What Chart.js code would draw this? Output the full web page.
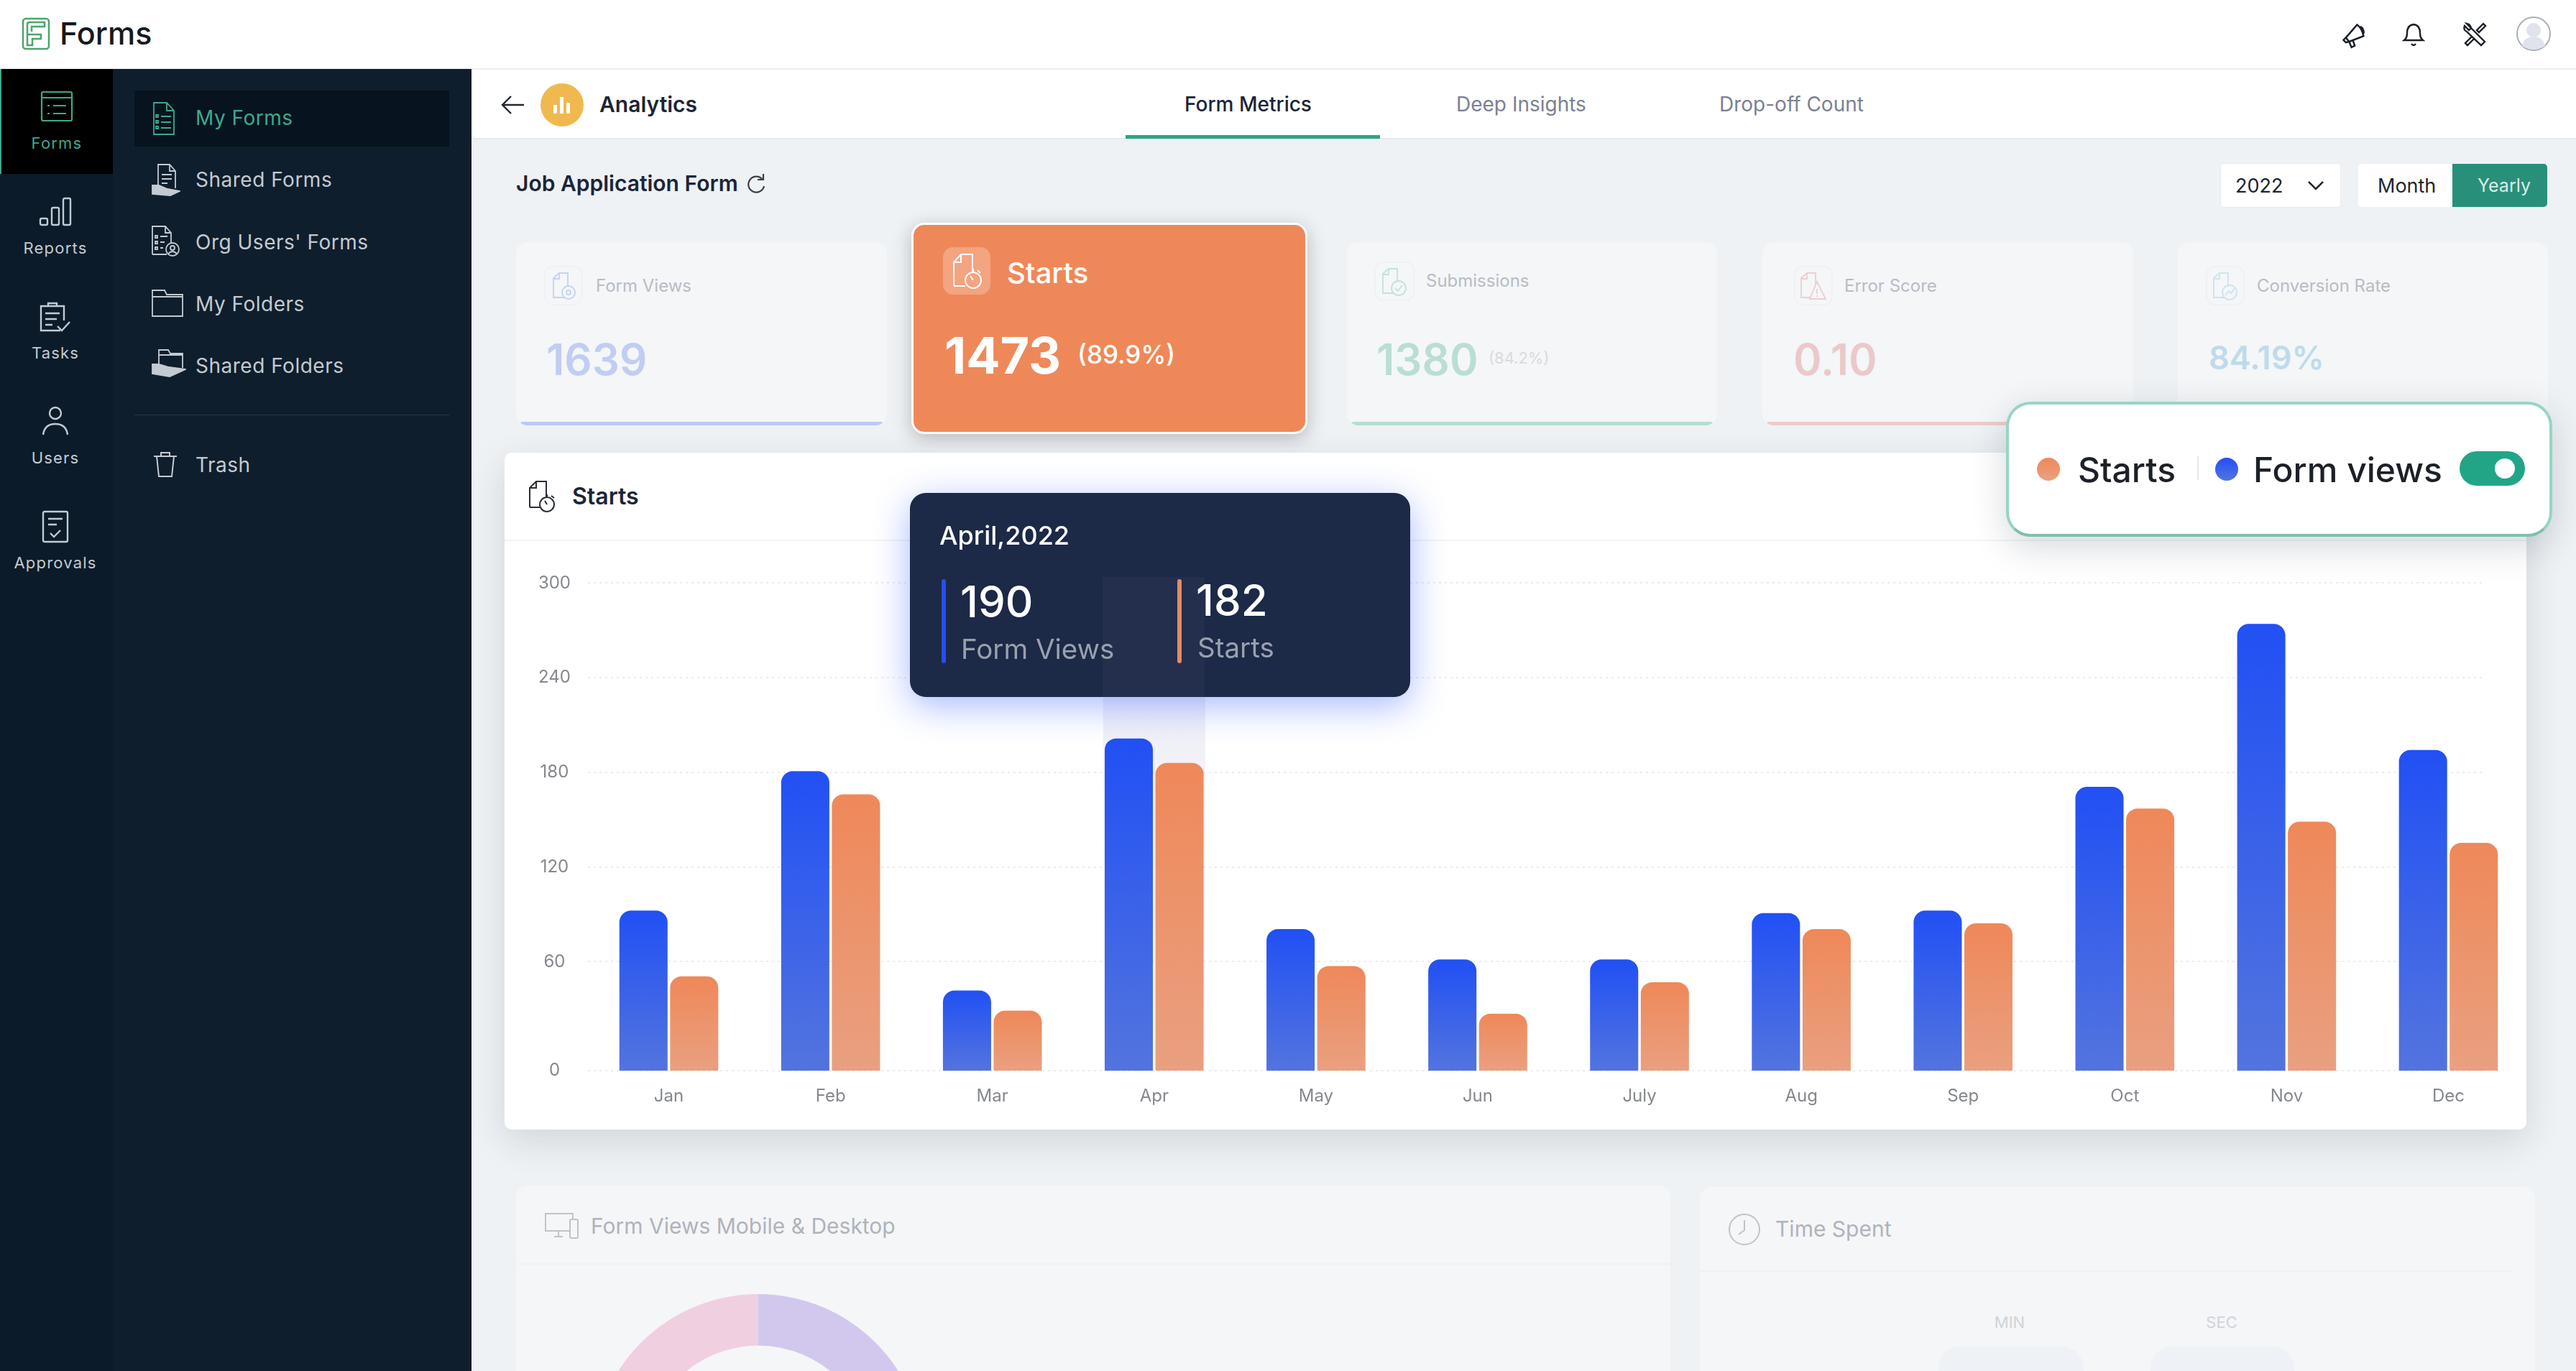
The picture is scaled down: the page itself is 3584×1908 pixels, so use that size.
<!DOCTYPE html>
<html>
<head>
<meta charset="utf-8">
<title>Forms - Analytics</title>
<script src="https://cdn.jsdelivr.net/npm/chart.js@4/dist/chart.umd.js"></script>
<style>
  * { box-sizing: border-box; }
  html, body { margin: 0; width: 3584px; height: 1908px; overflow: hidden; background: #eef2f5; font-family: Inter, sans-serif; }
  .box { position: absolute; }
  .t { position: absolute; transform: translateY(-50%); white-space: nowrap; line-height: 1.2; }
  .tc { position: absolute; transform: translate(-50%, -50%); white-space: nowrap; line-height: 1.2; }
  svg { position: absolute; fill: none; }
  .rail { color: #c3cad2; font-size: 22px; letter-spacing: 1.2px; }
  .nav { color: #c3cad2; font-size: 28px; letter-spacing: .5px; }
  .kpi { position: absolute; background: #f4f6f8; border-radius: 16px; top: 337px; height: 255px; overflow: hidden; }
  .kpi i { position: absolute; left: 6px; right: 6px; bottom: 0; height: 5px; border-radius: 3px; }
  .ib { position: absolute; border: 2px solid #eff1f4; border-radius: 12px; }
  .lbl { font-size: 24px; color: #b8bcc4; }
  .val { font-size: 60px; font-weight: 600; }
</style>
</head>
<body>

<!-- top bar -->
<div class="box" style="left:0;top:0;width:3584px;height:97px;background:#fff;border-bottom:2px solid #eceef0"></div>
<svg style="left:30px;top:24px" width="40" height="46" viewBox="0 0 40 46" stroke="#4aa56c" stroke-width="2.5">
  <rect x="2" y="2" width="36" height="42" rx="4"/><path d="M8 20V10q0-3 3-3h21v6H14v7m-6 0v19h7V30h12v-6H8"/>
</svg>
<div class="t" style="left:83px;top:47px;font-size:43px;font-weight:500;color:#151a20">Forms</div>
<svg style="left:3257px;top:30px" width="36" height="38" viewBox="0 0 32 34" stroke="#1b1f28" stroke-width="2.2">
  <path d="M6 20 20 4q6 4 8 14L10 25zM6 20l-3 3 3 3 4-1M10 25l3 7 4-2-2-6M24 6q5 3 4 9"/>
</svg>
<svg style="left:3342px;top:30px" width="32" height="36" viewBox="0 0 32 36" stroke="#1b1f28" stroke-width="2.4">
  <path d="M3 26q4-3 4-10 0-11 9-12 9 1 9 12 0 7 4 10zM13 31q3 4 6 0"/>
</svg>
<svg style="left:3425px;top:30px" width="36" height="36" viewBox="0 0 36 36" stroke="#1b1f28" stroke-width="2.4">
  <path d="M7 3l6 6-3 3-6-6q-2 6 3 8l20 19 5-5L13 9q-1-5-6-6zM30 3l-9 9 3 3 9-9-3-3zM14 21l-9 9 3 3 9-9"/>
</svg>
<svg style="left:3501px;top:23px" width="48" height="48" viewBox="0 0 48 48" stroke="#aab0ba" stroke-width="2">
  <circle cx="24" cy="24" r="23" fill="#fff"/><circle cx="24" cy="19" r="10" fill="#e0e3ee" stroke="none"/><path d="M8 41q3-13 16-13t16 13q-16 10-32 0" fill="#e0e3ee" stroke="none"/>
</svg>

<!-- left rail + nav panel -->
<div class="box" style="left:0;top:96px;width:157px;height:1812px;background:#0b1b29"></div>
<div class="box" style="left:157px;top:96px;width:499px;height:1812px;background:#0f1e2c"></div>
<div class="box" style="left:0;top:96px;width:157px;height:146px;background:#000;border-left:2px solid #3fa88d"></div>
<svg style="left:56px;top:125px" width="46" height="46" viewBox="0 0 46 46" stroke="#3fa88d" stroke-width="2.2">
  <rect x="2" y="3" width="42" height="40" rx="2"/><path d="M2 11h42M10 22h3M18 22h18M10 33h3M18 33h18"/>
</svg>
<div class="tc rail" style="left:79px;top:199px;color:#3fa88d">Forms</div>
<svg style="left:54px;top:274px" width="46" height="42" viewBox="0 0 46 42" stroke="#c3cad2" stroke-width="2.4">
  <rect x="2" y="30" width="10" height="9" rx="2"/><rect x="18" y="15" width="10" height="24" rx="2"/><rect x="34" y="2" width="10" height="37" rx="2"/>
</svg>
<div class="tc rail" style="left:77px;top:345px">Reports</div>
<svg style="left:54px;top:419px" width="46" height="46" viewBox="0 0 46 46" stroke="#c3cad2" stroke-width="2.4">
  <path d="M30 41H3V7h32v20M13 7V3h12v4M9 17h20M9 25h16M9 33h10M26 35l6 6 11-12"/>
</svg>
<div class="tc rail" style="left:77px;top:491px">Tasks</div>
<svg style="left:58px;top:565px" width="38" height="42" viewBox="0 0 38 42" stroke="#c3cad2" stroke-width="2.4">
  <circle cx="19" cy="10" r="8"/><path d="M2 40q2-15 17-15t17 15"/>
</svg>
<div class="tc rail" style="left:77px;top:637px">Users</div>
<svg style="left:58px;top:710px" width="38" height="46" viewBox="0 0 38 46" stroke="#c3cad2" stroke-width="2.4">
  <rect x="2" y="2" width="34" height="42" rx="2"/><path d="M9 12h20M9 20h12M12 32l5 5 9-9"/>
</svg>
<div class="tc rail" style="left:77px;top:783px">Approvals</div>

<div class="box" style="left:187px;top:126px;width:438px;height:78px;background:#07141f"></div>
<svg style="left:211px;top:142px" width="32" height="46" viewBox="0 0 32 46" stroke="#3fa88d" stroke-width="1.8">
  <path d="M3 1h18l10 11v33H3zM21 1v11h10M6 18h3v3H6zM6 26h3v3H6zM6 34h3v3H6zM13 20h14M13 28h14M13 36h14"/>
</svg>
<svg style="left:211px;top:228px" width="40" height="46" viewBox="0 0 40 46" stroke="#c3cad2" stroke-width="1.8">
  <path d="M9 30V1h16l8 9v24M25 1v9h8M14 15h14M14 21h14M14 27h8"/><path d="M1 30h9l12 5 17 3-13 6-25-2z" fill="#c3cad2"/>
</svg>
<svg style="left:211px;top:314px" width="40" height="44" viewBox="0 0 40 44" stroke="#c3cad2" stroke-width="1.8">
  <path d="M1 40V1h18l8 9v14M19 1v9h8M5 14h3v3H5zM5 22h3v3H5zM5 30h3v3H5zM12 15h10M12 23h6M12 31h4M1 40h20"/><circle cx="29" cy="33" r="9"/><circle cx="29" cy="31" r="3"/><path d="M23 39q6-6 12 0"/>
</svg>
<svg style="left:211px;top:403px" width="44" height="38" viewBox="0 0 44 38" stroke="#c3cad2" stroke-width="1.8">
  <path d="M1 1h17l3 6h22v30H1zM1 10h42"/>
</svg>
<svg style="left:211px;top:486px" width="48" height="40" viewBox="0 0 48 40" stroke="#c3cad2" stroke-width="1.8">
  <path d="M10 24V1h13l3 5h17v20M10 8h33"/><path d="M1 21h9l14 4 23 3-22 10-24-4z" fill="#c3cad2"/>
</svg>
<svg style="left:213px;top:627px" width="34" height="38" viewBox="0 0 34 38" stroke="#c3cad2" stroke-width="2">
  <path d="M1 8h32M5 8l3 28h18l3-28M11 8V3h12v5"/>
</svg>
<div class="t nav" style="left:272px;top:165px;color:#3fa88d">My Forms</div>
<div class="t nav" style="left:272px;top:251px">Shared Forms</div>
<div class="t nav" style="left:272px;top:338px">Org Users' Forms</div>
<div class="t nav" style="left:272px;top:424px">My Folders</div>
<div class="t nav" style="left:272px;top:510px">Shared Folders</div>
<div class="box" style="left:187px;top:577px;width:438px;height:1px;background:#2a3846"></div>
<div class="t nav" style="left:272px;top:648px">Trash</div>

<!-- sub header -->
<div class="box" style="left:656px;top:97px;width:2928px;height:97px;background:#fff;border-bottom:2px solid #e8ebee"></div>
<svg style="left:697px;top:132px" width="32" height="28" viewBox="0 0 32 28" stroke="#22262e" stroke-width="2.4"><path d="M14 2 2 14l12 12M2 14h30"/></svg>
<div class="box" style="left:752px;top:116px;width:60px;height:60px;border-radius:50%;background:#f0b94f"></div>
<svg style="left:768px;top:132px" width="28" height="28" viewBox="0 0 28 28" fill="#fff"><rect x="2" y="14" width="5" height="12" fill="#fff"/><rect x="11" y="3" width="5" height="23" fill="#fff"/><rect x="20" y="11" width="5" height="15" fill="#fff"/></svg>
<div class="t" style="left:834px;top:145px;font-size:30px;font-weight:600;color:#1c2537">Analytics</div>
<div class="t" style="left:1648px;top:146px;font-size:28px;font-weight:500;color:#1c2537">Form Metrics</div>
<div class="box" style="left:1566px;top:188px;width:354px;height:5px;background:#2ba587"></div>
<div class="t" style="left:2026px;top:146px;font-size:28px;color:#7b8094">Deep Insights</div>
<div class="t" style="left:2392px;top:146px;font-size:28px;color:#7b8094">Drop-off Count</div>

<div class="t" style="left:718px;top:255px;font-size:30px;font-weight:600;color:#1c2537">Job Application Form</div>
<svg style="left:1037px;top:240px" width="28" height="30" viewBox="0 0 28 30" stroke="#3a4048" stroke-width="2.2"><path d="M24 10a11 11 0 1 0 2 9M25 2v8h-8"/></svg>

<div class="box" style="left:3089px;top:227px;width:168px;height:62px;background:#fff;border-radius:5px;border:1px solid #e8ebee"></div>
<div class="t" style="left:3110px;top:259px;font-size:27px;color:#1f2530">2022</div>
<svg style="left:3210px;top:250px" width="24" height="16" viewBox="0 0 24 16" stroke="#1f2530" stroke-width="2.6"><path d="M2 3l10 10L22 3"/></svg>
<div class="box" style="left:3281px;top:228px;width:263px;height:60px;background:#fff;border-radius:5px;overflow:hidden">
  <div class="box" style="left:131px;top:0;width:132px;height:60px;background:#28907a"></div>
</div>
<div class="t" style="left:3308px;top:259px;font-size:27px;color:#1f2530">Month</div>
<div class="t" style="left:3447px;top:258px;font-size:25px;color:#dbeee9">Yearly</div>

<!-- KPI cards -->
<div class="kpi" style="left:718px;width:516px"><i style="background:#bcc9f2"></i></div>
<div class="ib" style="left:757px;top:370px;width:54px;height:55px"></div>
<svg style="left:768px;top:378px" width="34" height="40" viewBox="0 0 34 40" stroke="#c5d2f2" stroke-width="1.8"><path d="M2 36V9l8-7h12v34zM10 2v8H2"/><circle cx="23" cy="29" r="9" fill="#f4f6f8"/><circle cx="23" cy="29" r="3"/></svg>
<div class="t lbl" style="left:829px;top:398px">Form Views</div>
<div class="t val" style="left:760px;top:500px;color:#c2cdf2">1639</div>

<div class="box" style="left:1268px;top:310px;width:551px;height:294px;background:#ef8859;border:3px solid #fff;border-radius:18px;box-shadow:0 6px 26px rgba(40,40,40,.28)"></div>
<div class="box" style="left:1312px;top:344px;width:66px;height:66px;border-radius:14px;background:rgba(255,255,255,.24)"></div>
<svg style="left:1324px;top:352px" width="46" height="52" viewBox="0 0 46 52" stroke="#fff" stroke-width="2"><path d="M3 46V13L13 2h16v26M13 2v11H3M3 46h16"/><circle cx="30" cy="38" r="11"/><path d="M30 38l-4-6M30 22v5M36 24l4 4"/></svg>
<div class="t" style="left:1401px;top:380px;font-size:40px;font-weight:500;color:#fff">Starts</div>
<div class="t" style="left:1314px;top:495px;font-size:70px;font-weight:700;color:#fff">1473</div>
<div class="t" style="left:1499px;top:493px;font-size:35px;font-weight:500;color:#fff">(89.9%)</div>

<div class="kpi" style="left:1874px;width:515px"><i style="background:#b5ddd2"></i></div>
<div class="ib" style="left:1912px;top:364px;width:56px;height:55px"></div>
<svg style="left:1922px;top:372px" width="36" height="40" viewBox="0 0 36 40" stroke="#c2e2da" stroke-width="1.8"><path d="M2 36V9l8-7h12v34zM10 2v8H2"/><circle cx="24" cy="29" r="10" fill="#f4f6f8"/><path d="M19 29l4 4 6-8"/></svg>
<div class="t lbl" style="left:1984px;top:391px">Submissions</div>
<div class="t val" style="left:1915px;top:500px;color:#b9ded5">1380</div>
<div class="t" style="left:2071px;top:498px;font-size:22px;color:#d8dbdf">(84.2%)</div>

<div class="kpi" style="left:2452px;width:516px"><i style="background:#eccccc"></i></div>
<div class="ib" style="left:2496px;top:370px;width:54px;height:55px"></div>
<svg style="left:2504px;top:378px" width="38" height="40" viewBox="0 0 38 40" stroke="#efcdcd" stroke-width="1.8"><path d="M2 36V9l8-7h12v34zM10 2v8H2"/><path d="M24 14l12 24H14zM24 24v7M24 33v2" fill="#f4f6f8"/></svg>
<div class="t lbl" style="left:2566px;top:398px">Error Score</div>
<div class="t val" style="left:2495px;top:500px;color:#ebc9ca">0.10</div>

<div class="kpi" style="left:3030px;width:515px"></div>
<div class="ib" style="left:3069px;top:370px;width:54px;height:55px"></div>
<svg style="left:3078px;top:378px" width="36" height="40" viewBox="0 0 36 40" stroke="#cfe3ee" stroke-width="1.8"><path d="M2 36V9l8-7h12v34zM10 2v8H2"/><circle cx="24" cy="29" r="10" fill="#f4f6f8"/><path d="M18 33l5-6 3 3 5-7"/></svg>
<div class="t lbl" style="left:3140px;top:398px">Conversion Rate</div>
<div class="t" style="left:3073px;top:498px;font-size:45px;font-weight:600;color:#bfdbea">84.19%</div>

<!-- chart card -->
<div class="box" style="left:702px;top:630px;width:2813px;height:942px;background:#fff;border-radius:10px;box-shadow:0 16px 50px rgba(30,40,60,.14)"></div>
<div class="box" style="left:702px;top:751px;width:2813px;height:2px;background:#f1f3f5"></div>
<svg style="left:735px;top:668px" width="48" height="46" viewBox="0 0 48 46" stroke="#2a2e36" stroke-width="2"><path d="M2 38V11L11 2h14v24M11 2v9H2M2 38h14"/><circle cx="26" cy="34" r="10" fill="#fff"/><path d="M26 34l-3-5M26 20v4M32 22l4 3"/></svg>
<div class="t" style="left:796px;top:691px;font-size:32px;font-weight:600;color:#1c2537">Starts</div>

<canvas id="barChart" class="box" style="left:702px;top:773px" width="2817" height="787"></canvas>

<!-- hover tooltip -->
<div class="box" style="left:1266px;top:686px;width:696px;height:284px;background:#1c2947;border-radius:22px;box-shadow:0 12px 50px rgba(60,100,255,.45);overflow:hidden">
  <div class="box" style="left:268px;top:117px;width:142px;height:167px;background:rgba(255,255,255,.03)"></div>
</div>
<div class="t" style="left:1307px;top:746px;font-size:36px;font-weight:500;color:#fff" id="tipTitle"></div>
<div class="box" style="left:1310px;top:806px;width:6px;height:117px;border-radius:3px;background:#2350ee"></div>
<div class="box" style="left:1638px;top:806px;width:6px;height:117px;border-radius:3px;background:#e58b63"></div>
<div class="t" style="left:1336px;top:837px;font-size:60px;font-weight:500;color:#fff" id="tipViews"></div>
<div class="t" style="left:1337px;top:903px;font-size:38.5px;color:#9aa0ae" id="tipViewsName"></div>
<div class="t" style="left:1664px;top:835px;font-size:60px;font-weight:500;color:#fff" id="tipStarts"></div>
<div class="t" style="left:1666px;top:901px;font-size:38.5px;color:#9aa0ae" id="tipStartsName"></div>

<!-- legend popup -->
<div class="box" style="left:2791px;top:559px;width:760px;height:188px;background:#fff;border:4px solid #96d5c4;border-bottom-color:#80bfae;border-radius:34px;box-shadow:0 14px 50px rgba(30,40,60,.18)"></div>
<div class="box" style="left:2834px;top:637px;width:32px;height:32px;border-radius:50%;background:linear-gradient(#ef8859,#e9a080)"></div>
<div class="t" style="left:2891px;top:654px;font-size:48px;font-weight:500;color:#1c2028" id="legStarts"></div>
<div class="box" style="left:3057px;top:635px;width:2px;height:33px;background:#e6e8eb"></div>
<div class="box" style="left:3082px;top:637px;width:32px;height:32px;border-radius:50%;background:linear-gradient(#2150f4,#5374de)"></div>
<div class="t" style="left:3135px;top:654px;font-size:48px;font-weight:500;color:#1c2028" id="legViews"></div>
<div class="box" style="left:3422px;top:628px;width:91px;height:48px;border-radius:24px;background:#22a586"></div>
<div class="box" style="left:3471px;top:638px;width:28px;height:28px;border-radius:50%;background:#fff"></div>

<!-- faded cards below -->
<div class="box" style="left:718px;top:1650px;width:1606px;height:300px;background:#f4f6f8;border-radius:16px 16px 0 0"></div>
<div class="box" style="left:718px;top:1758px;width:1606px;height:2px;background:#eff1f4"></div>
<svg style="left:757px;top:1687px" width="48" height="38" viewBox="0 0 48 38" stroke="#c0c3c9" stroke-width="2"><path d="M36 26H2V2h38v8M14 34h12M20 26v8"/><rect x="36" y="10" width="11" height="26" rx="2" fill="#f4f6f8"/></svg>
<div class="t" style="left:822px;top:1706px;font-size:30px;color:#b0b3ba">Form Views Mobile &amp; Desktop</div>
<canvas id="donutChart" class="box" style="left:805px;top:1782px" width="500" height="500"></canvas>

<div class="box" style="left:2365px;top:1652px;width:1162px;height:300px;background:#f4f6f8;border-radius:16px 16px 0 0"></div>
<div class="box" style="left:2365px;top:1768px;width:1130px;height:2px;background:#eff1f4"></div>
<svg style="left:2403px;top:1688px" width="48" height="46" viewBox="0 0 48 46" stroke="#c0c3c9" stroke-width="2"><circle cx="24" cy="23" r="21"/><path d="M24 10v14l-8 6"/></svg>
<div class="t" style="left:2470px;top:1710px;font-size:30px;color:#b0b3ba">Time Spent</div>
<div class="tc" style="left:2796px;top:1840px;font-size:22px;color:#d0d3d8">MIN</div>
<div class="tc" style="left:3091px;top:1840px;font-size:22px;color:#d0d3d8">SEC</div>
<div class="box" style="left:2697px;top:1874px;width:202px;height:80px;border-radius:30px;background:#eef2f6"></div>
<div class="box" style="left:2992px;top:1874px;width:200px;height:80px;border-radius:30px;background:#eef2f6"></div>

<script>
  const months = ['Jan', 'Feb', 'Mar', 'Apr', 'May', 'Jun', 'July', 'Aug', 'Sep', 'Oct', 'Nov', 'Dec'];
  const formViews = [92.4, 180.7, 44.1, 201.5, 80.6, 61.4, 61.4, 90.8, 92.4, 170.8, 274.1, 194.2];
  const startsValues = [51.9, 166.1, 33, 186, 57.6, 31.4, 48.7, 80.6, 84.3, 157.1, 148.7, 135.3];
  const seriesNames = ['Form Views', 'Starts'];
  const legendNames = ['Starts', 'Form views'];
  const tooltipTitle = 'April,2022';
  const tooltipValues = ['190', '182'];
  const hoveredMonth = 'Apr';
  const deviceSplit = [50, 50];

  document.getElementById('tipTitle').textContent = tooltipTitle;
  document.getElementById('tipViews').textContent = tooltipValues[0];
  document.getElementById('tipStarts').textContent = tooltipValues[1];
  document.getElementById('tipViewsName').textContent = seriesNames[0];
  document.getElementById('tipStartsName').textContent = seriesNames[1];
  document.getElementById('legStarts').textContent = legendNames[0];
  document.getElementById('legViews').textContent = legendNames[1];

  // the axis in the picture gives 0-60 more room than the other steps
  const FIRST_STEP = 60, FIRST_SHARE = 0.2235;

  class KinkedScale extends Chart.LinearScale {
    getPixelForValue(value) {
      const share = value <= FIRST_STEP
        ? value / FIRST_STEP * FIRST_SHARE
        : FIRST_SHARE + (value - FIRST_STEP) / (this.max - FIRST_STEP) * (1 - FIRST_SHARE);
      return this.getPixelForDecimal(share);
    }
    getValueForPixel(pixel) {
      const share = this.getDecimalForPixel(pixel);
      return share <= FIRST_SHARE
        ? share / FIRST_SHARE * FIRST_STEP
        : FIRST_STEP + (share - FIRST_SHARE) / (1 - FIRST_SHARE) * (this.max - FIRST_STEP);
    }
  }
  KinkedScale.id = 'kinked';
  KinkedScale.defaults = Chart.LinearScale.defaults;
  Chart.register(KinkedScale);

  Chart.defaults.font.family = 'Inter';
  Chart.defaults.animation = false;

  function barFill(top, bottom) {
    return (c) => {
      const y = c.chart.scales.y;
      if (!c.parsed || !y) return top;
      const from = y.getPixelForValue(c.parsed.y), to = y.getPixelForValue(0);
      if (!isFinite(from) || !isFinite(to)) return top; // scale not laid out yet
      const g = c.chart.ctx.createLinearGradient(0, from, 0, to);
      g.addColorStop(0, top);
      g.addColorStop(1, bottom);
      return g;
    };
  }

  // dotted rules stop short of the card edge, so they are drawn here and not by the grid option
  const backdrop = {
    id: 'backdrop',
    beforeDatasetsDraw(chart) {
      const { ctx, scales: { x, y }, chartArea } = chart;
      ctx.save();
      ctx.strokeStyle = '#e9ebee';
      ctx.lineWidth = 2;
      ctx.setLineDash([3, 5]);
      y.ticks.forEach(t => {
        const py = Math.round(y.getPixelForValue(t.value));
        ctx.beginPath();
        ctx.moveTo(chartArea.left, py);
        ctx.lineTo(chartArea.right - 64, py);
        ctx.stroke();
      });
      ctx.restore();

      const cx = x.getPixelForValue(months.indexOf(hoveredMonth));
      const g = ctx.createLinearGradient(0, chartArea.top, 0, chartArea.bottom);
      g.addColorStop(0, 'rgba(70,70,150,.1)');
      g.addColorStop(1, 'rgba(70,70,150,.03)');
      ctx.fillStyle = g;
      ctx.fillRect(cx - 71, chartArea.top - 6, 142, chartArea.bottom - chartArea.top + 6);
    }
  };

  new Chart(document.getElementById('barChart'), {
    type: 'bar',
    data: {
      labels: months,
      datasets: [
        { label: seriesNames[0], data: formViews, backgroundColor: barFill('#2150f4', '#5374de') },
        { label: seriesNames[1], data: startsValues, backgroundColor: barFill('#ef8859', '#e9a080') }
      ]
    },
    options: {
      responsive: false,
      categoryPercentage: 0.627,
      barPercentage: 0.95,
      elements: { bar: { borderRadius: { topLeft: 16, topRight: 16, bottomLeft: 0, bottomRight: 0 }, borderSkipped: false } },
      plugins: { legend: { display: false }, tooltip: { enabled: false } },
      scales: {
        x: {
          grid: { display: false },
          border: { display: false },
          ticks: { color: '#85888e', font: { size: 24 }, padding: 13, autoSkip: false, maxRotation: 0 },
          afterFit(scale) { scale.height = 70; }
        },
        y: {
          type: 'kinked',
          min: 0,
          max: 300,
          grid: { display: false, drawTicks: false },
          border: { display: false },
          ticks: { stepSize: 60, color: '#85888e', font: { size: 24 }, padding: 24, crossAlign: 'center' },
          afterFit(scale) { scale.width = 116; }
        }
      }
    },
    plugins: [backdrop]
  });

  new Chart(document.getElementById('donutChart'), {
    type: 'doughnut',
    data: {
      labels: ['Desktop', 'Mobile'],
      datasets: [{ data: deviceSplit, backgroundColor: ['#d2c8ee', '#f0cfe0'], borderWidth: 0 }]
    },
    options: {
      responsive: false,
      cutout: '69%',
      layout: { padding: 19 },
      plugins: { legend: { display: false }, tooltip: { enabled: false } }
    }
  });
</script>
</body>
</html>
